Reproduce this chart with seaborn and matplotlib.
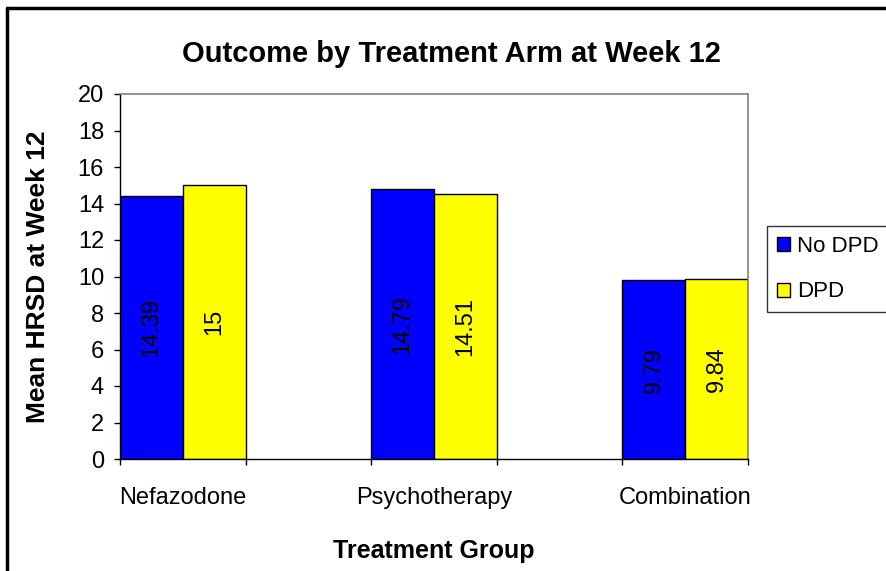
import pandas as pd
import matplotlib
matplotlib.use("Agg")
import matplotlib.pyplot as plt
from matplotlib.lines import Line2D
from matplotlib.ticker import FixedLocator
import seaborn as sns

# data
groups = ["Nefazodone", "Psychotherapy", "Combination"]
no_dpd = [14.39, 14.79, 9.79]
dpd = [15, 14.51, 9.84]

df = pd.DataFrame({
    "group": groups * 2,
    "dpd": ["No DPD"] * 3 + ["DPD"] * 3,
    "hrsd": no_dpd + dpd,
})

# empty slots between the groups, as in the original sheet
order = ["Nefazodone", " ", "Psychotherapy", "  ", "Combination"]

sns.set_style("white")
plt.rcParams["font.family"] = ["Liberation Sans", "DejaVu Sans"]
plt.rcParams["text.color"] = "black"
plt.rcParams["axes.labelcolor"] = "black"
plt.rcParams["xtick.color"] = "black"
plt.rcParams["ytick.color"] = "black"

fig = plt.figure(figsize=(8.86, 5.71), dpi=100)
ax = fig.add_axes([120 / 886, 1 - 459 / 571, 628 / 886, 365 / 571])

sns.barplot(data=df, x="group", y="hrsd", hue="dpd", order=order,
            hue_order=["No DPD", "DPD"],
            palette={"No DPD": "#0000FF", "DPD": "#FFFF00"},
            edgecolor="black", linewidth=1, width=1.0, dodge=True,
            saturation=1, ax=ax)

for c in ax.containers:
    ax.bar_label(c, fmt="%g", label_type="center", rotation=90, fontsize=17, color="black")

ax.set_ylim(0, 20)
ax.set_xlim(-0.5, 4.5)
ax.set_yticks(range(0, 21, 2))
ax.set_xticks(range(5))
ax.set_xticklabels(["Nefazodone", "", "Psychotherapy", "", "Combination"])
ax.xaxis.set_minor_locator(FixedLocator([-0.5, 0.5, 1.5, 2.5, 3.5, 4.5]))
ax.tick_params(axis="x", which="major", length=0, labelsize=17, pad=20)
ax.tick_params(axis="x", which="minor", length=4.5, width=1, color="black", direction="out", bottom=True)
ax.tick_params(axis="y", length=4.5, width=1, color="black", direction="out", left=True, labelsize=17, pad=7)

for s in ["left", "bottom"]:
    ax.spines[s].set_color("black")
    ax.spines[s].set_linewidth(1)
for s in ["top", "right"]:
    ax.spines[s].set_color("#808080")
    ax.spines[s].set_linewidth(1.2)

ax.set_xlabel("Treatment Group", fontsize=18, fontweight="bold", labelpad=22)
ax.set_ylabel("Mean HRSD at Week 12", fontsize=19, fontweight="bold", labelpad=20)
fig.text(451 / 886, 1 - 62 / 571, "Outcome by Treatment Arm at Week 12",
         fontsize=21, fontweight="bold", ha="center", va="baseline")

handles, labels = ax.get_legend_handles_labels()
leg = fig.legend(handles, labels, loc="upper left", bbox_to_anchor=(767 / 886, 1 - 226 / 571),
                 frameon=True, fancybox=False, edgecolor="black", fontsize=16,
                 handlelength=0.6, handleheight=0.6, handletextpad=0.3,
                 borderpad=0.45, labelspacing=1.1, borderaxespad=0)
leg.get_frame().set_linewidth(1)
if ax.get_legend():
    ax.get_legend().remove()

# outer chart border
fig.add_artist(Line2D([7 / 886, 7 / 886], [0, 1 - 8 / 571], color="black", lw=2.5))
fig.add_artist(Line2D([7 / 886, 1], [1 - 8 / 571, 1 - 8 / 571], color="black", lw=2.5))

fig.savefig("out.png", dpi=100)
